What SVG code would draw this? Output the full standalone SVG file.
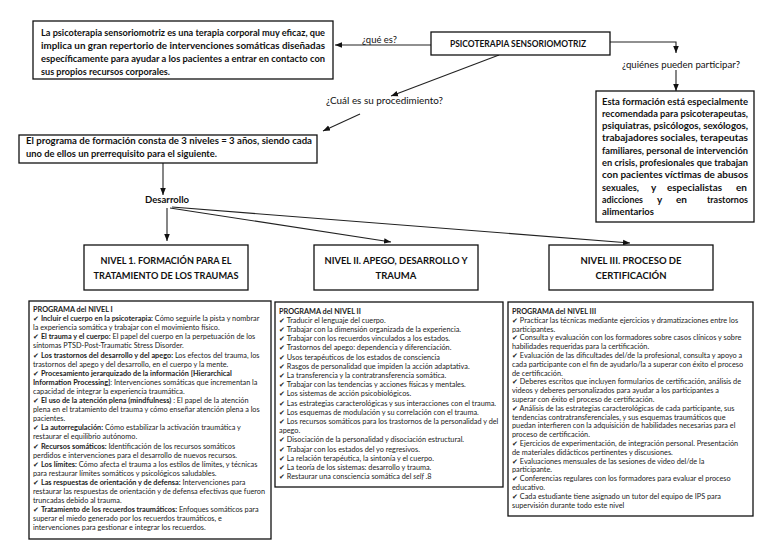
<svg xmlns="http://www.w3.org/2000/svg" width="768" height="543" viewBox="0 0 768 543">
<style>
.box{fill:#fff;stroke:#111;stroke-width:1.3}
.t{font-family:Lato,"Open Sans","Liberation Sans",sans-serif;fill:#111}
.b{font-weight:bold}
.m{font-size:10px;font-weight:bold}
.n{font-size:9.5px;font-weight:bold;text-anchor:middle}
.s{font-size:7.3px;fill:#222}
.c{stroke:#222;stroke-width:1.1;fill:none;marker-end:url(#ah)}
</style>
<defs>
<marker id="ah" markerWidth="8" markerHeight="8" refX="7" refY="4" orient="auto" markerUnits="userSpaceOnUse"><path d="M0,1.2 L7,4 L0,6.8 z" fill="#111"/></marker>
</defs>

<g id="connectors">
<path class="c" d="M431,45 L335,45"/>
<path class="c" d="M610,42 H676 V53"/>
<path class="c" d="M676,70 V91"/>
<path class="c" d="M499,55 L391,96"/>
<path class="c" d="M360,114 L323,131"/>
<path class="c" d="M163,163 V195"/>
<path class="c" d="M167,208 V241"/>
<path class="c" d="M170,208 L391,242"/>
<path class="c" d="M172,207 L630,243"/>
</g>

<g id="definicion">
<rect class="box" x="33" y="21" width="300" height="58"/>
<text class="t m" x="41" y="35.5" textLength="284" lengthAdjust="spacingAndGlyphs">La psicoterapia sensoriomotriz es una terapia corporal muy eficaz, que</text>
<text class="t m" x="41" y="49" textLength="284" lengthAdjust="spacingAndGlyphs">implica un gran repertorio de intervenciones somáticas diseñadas</text>
<text class="t m" x="41" y="62" textLength="284" lengthAdjust="spacingAndGlyphs">específicamente para ayudar a los pacientes a entrar en contacto con</text>
<text class="t m" x="41" y="75" textLength="129" lengthAdjust="spacingAndGlyphs">sus propios recursos corporales.</text>
</g>

<g id="central">
<rect class="box" x="431" y="32" width="179" height="23"/>
<text class="t b" x="518" y="47" font-size="8.5" text-anchor="middle" textLength="136" lengthAdjust="spacingAndGlyphs">PSICOTERAPIA SENSORIOMOTRIZ</text>
</g>

<g id="lbl-que">
<text class="t" x="362" y="42.5" font-size="9" textLength="35" lengthAdjust="spacingAndGlyphs">¿qué es?</text>
</g>
<g id="lbl-quienes">
<text class="t" x="622" y="67.5" font-size="9.5" textLength="118" lengthAdjust="spacingAndGlyphs">¿quiénes pueden participar?</text>
</g>
<g id="lbl-cual">
<text class="t" x="326" y="104" font-size="9" textLength="117" lengthAdjust="spacingAndGlyphs">¿Cuál es su procedimiento?</text>
</g>

<g id="participantes">
<rect class="box" x="596" y="91" width="158" height="131"/>
<text class="t m" x="602" y="104.5" textLength="146" lengthAdjust="spacingAndGlyphs">Esta formación está especialmente</text>
<text class="t m" x="602" y="116.8" textLength="146" lengthAdjust="spacingAndGlyphs">recomendada para psicoterapeutas,</text>
<text class="t m" x="602" y="129.1" textLength="146" lengthAdjust="spacingAndGlyphs">psiquiatras, psicólogos, sexólogos,</text>
<text class="t m" x="602" y="141.4" textLength="146" lengthAdjust="spacingAndGlyphs">trabajadores sociales, terapeutas</text>
<text class="t m" x="602" y="153.7" textLength="146" lengthAdjust="spacingAndGlyphs">familiares, personal de intervención</text>
<text class="t m" x="602" y="166" textLength="146" lengthAdjust="spacingAndGlyphs">en crisis, profesionales que trabajan</text>
<text class="t m" x="602" y="178.3" textLength="146" lengthAdjust="spacingAndGlyphs">con pacientes víctimas de abusos</text>
<text class="t m" y="190.6"><tspan x="602" textLength="37" lengthAdjust="spacingAndGlyphs">sexuales,</tspan> <tspan x="651">y</tspan> <tspan x="667" textLength="55" lengthAdjust="spacingAndGlyphs">especialistas</tspan> <tspan x="736">en</tspan></text>
<text class="t m" y="202.9"><tspan x="602" textLength="41" lengthAdjust="spacingAndGlyphs">adicciones</tspan> <tspan x="657">y</tspan> <tspan x="676">en</tspan> <tspan x="707" textLength="41" lengthAdjust="spacingAndGlyphs">trastornos</tspan></text>
<text class="t m" x="602" y="215.2" textLength="52" lengthAdjust="spacingAndGlyphs">alimentarios</text>
</g>

<g id="programa">
<rect class="box" x="19" y="135" width="298" height="28"/>
<text class="t m" x="26" y="144" textLength="286" lengthAdjust="spacingAndGlyphs">El programa de formación consta de 3 niveles = 3 años, siendo cada</text>
<text class="t m" x="26" y="157" textLength="191" lengthAdjust="spacingAndGlyphs">uno de ellos un prerrequisito para el siguiente.</text>
</g>

<g id="desarrollo">
<text class="t b" x="145" y="203" font-size="9" textLength="44" lengthAdjust="spacingAndGlyphs">Desarrollo</text>
</g>

<g id="nivel1">
<rect class="box" x="84" y="245" width="164" height="45"/>
<text class="t n" x="166" y="264" textLength="131" lengthAdjust="spacingAndGlyphs">NIVEL 1. FORMACIÓN PARA EL</text>
<text class="t n" x="166" y="278.5" textLength="145" lengthAdjust="spacingAndGlyphs">TRATAMIENTO DE LOS TRAUMAS</text>
</g>
<g id="nivel2">
<rect class="box" x="314" y="245" width="164" height="45"/>
<text class="t n" x="396" y="264" textLength="143" lengthAdjust="spacingAndGlyphs">NIVEL II. APEGO, DESARROLLO Y</text>
<text class="t n" x="396" y="278.5">TRAUMA</text>
</g>
<g id="nivel3">
<rect class="box" x="549" y="245" width="164" height="45"/>
<text class="t n" x="631" y="264" textLength="101" lengthAdjust="spacingAndGlyphs">NIVEL III. PROCESO DE</text>
<text class="t n" x="631" y="278.5" textLength="71" lengthAdjust="spacingAndGlyphs">CERTIFICACIÓN</text>
</g>

<g id="programa-nivel1">
<rect class="box" x="29" y="301" width="242" height="238"/>
<text class="t s" x="33">
<tspan x="33" y="312" class="b">PROGRAMA del NIVEL I</tspan>
<tspan x="33" y="321.1">✔ <tspan class="b">Incluir el cuerpo en la psicoterapia:</tspan> Cómo seguirle la pista y nombrar</tspan>
<tspan x="33" y="330.2">la experiencia somática y trabajar con el movimiento físico.</tspan>
<tspan x="33" y="339.3">✔ <tspan class="b">El trauma y el cuerpo:</tspan> El papel del cuerpo en la perpetuación de los</tspan>
<tspan x="33" y="348.4">síntomas PTSD-Post-Traumatic Stress Disorder.</tspan>
<tspan x="33" y="357.5">✔ <tspan class="b">Los trastornos del desarrollo y del apego:</tspan> Los efectos del trauma, los</tspan>
<tspan x="33" y="366.6">trastornos del apego y del desarrollo, en el cuerpo y la mente.</tspan>
<tspan x="33" y="375.7">✔ <tspan class="b">Procesamiento jerarquizado de la información [Hierarchical</tspan></tspan>
<tspan x="33" y="384.8"><tspan class="b">Information Processing]</tspan>: Intervenciones somáticas que incrementan la</tspan>
<tspan x="33" y="393.9">capacidad de integrar la experiencia traumática.</tspan>
<tspan x="33" y="403">✔ <tspan class="b">El uso de la atención plena (mindfulness)</tspan> : El papel de la atención</tspan>
<tspan x="33" y="412.1">plena en el tratamiento del trauma y cómo enseñar atención plena a los</tspan>
<tspan x="33" y="421.2">pacientes.</tspan>
<tspan x="33" y="430.3">✔ <tspan class="b">La autorregulación:</tspan> Cómo estabilizar la activación traumática y</tspan>
<tspan x="33" y="439.4">restaurar el equilibrio autónomo.</tspan>
<tspan x="33" y="448.5">✔ <tspan class="b">Recursos somáticos:</tspan> Identificación de los recursos somáticos</tspan>
<tspan x="33" y="457.6">perdidos e intervenciones para el desarrollo de nuevos recursos.</tspan>
<tspan x="33" y="466.7">✔ <tspan class="b">Los límites:</tspan> Cómo afecta el trauma a los estilos de límites, y técnicas</tspan>
<tspan x="33" y="475.8">para restaurar límites somáticos y psicológicos saludables.</tspan>
<tspan x="33" y="484.9">✔ <tspan class="b">Las respuestas de orientación y de defensa:</tspan> Intervenciones para</tspan>
<tspan x="33" y="494">restaurar las respuestas de orientación y de defensa efectivas que fueron</tspan>
<tspan x="33" y="503.1">truncadas debido al trauma.</tspan>
<tspan x="33" y="512.2">✔ <tspan class="b">Tratamiento de los recuerdos traumáticos:</tspan> Enfoques somáticos para</tspan>
<tspan x="33" y="521.3">superar el miedo generado por los recuerdos traumáticos, e</tspan>
<tspan x="33" y="530.4">intervenciones para gestionar e integrar los recuerdos.</tspan>
</text>
</g>

<g id="programa-nivel2">
<rect class="box" x="275" y="302" width="228" height="185"/>
<text class="t s" x="279">
<tspan x="279" y="313.5" class="b">PROGRAMA del NIVEL II</tspan>
<tspan x="279" y="322.7">✔ Traducir el lenguaje del cuerpo.</tspan>
<tspan x="279" y="331.9">✔ Trabajar con la dimensión organizada de la experiencia.</tspan>
<tspan x="279" y="341.1">✔ Trabajar con los recuerdos vinculados a los estados.</tspan>
<tspan x="279" y="350.3">✔ Trastornos del apego: dependencia y diferenciación.</tspan>
<tspan x="279" y="359.5">✔ Usos terapéuticos de los estados de consciencia</tspan>
<tspan x="279" y="368.7">✔ Rasgos de personalidad que impiden la acción adaptativa.</tspan>
<tspan x="279" y="377.9">✔ La transferencia y la contratransferencia somática.</tspan>
<tspan x="279" y="387.1">✔ Trabajar con las tendencias y acciones físicas y mentales.</tspan>
<tspan x="279" y="396.3">✔ Los sistemas de acción psicobiológicos.</tspan>
<tspan x="279" y="405.5">✔ Las estrategias caracterológicas y sus interacciones con el trauma.</tspan>
<tspan x="279" y="414.7">✔ Los esquemas de modulación y su correlación con el trauma.</tspan>
<tspan x="279" y="423.9">✔ Los recursos somáticos para los trastornos de la personalidad y del</tspan>
<tspan x="279" y="433.1">apego.</tspan>
<tspan x="279" y="442.3">✔ Disociación de la personalidad y disociación estructural.</tspan>
<tspan x="279" y="451.5">✔ Trabajar con los estados del yo regresivos.</tspan>
<tspan x="279" y="460.7">✔ La relación terapéutica, la sintonía y el cuerpo.</tspan>
<tspan x="279" y="469.9">✔ La teoría de los sistemas: desarrollo y trauma.</tspan>
<tspan x="279" y="479.1">✔ Restaurar una consciencia somática del <tspan font-style="italic">self</tspan> .8</tspan>
</text>
</g>

<g id="programa-nivel3">
<rect class="box" x="508" y="302" width="245" height="214"/>
<text class="t s" x="512">
<tspan x="512" y="314" class="b">PROGRAMA del NIVEL III</tspan>
<tspan x="512" y="322.8">✔ Practicar las técnicas mediante ejercicios y dramatizaciones entre los</tspan>
<tspan x="512" y="331.6">participantes.</tspan>
<tspan x="512" y="340.4">✔ Consulta y evaluación con los formadores sobre casos clínicos y sobre</tspan>
<tspan x="512" y="349.2">habilidades requeridas para la certificación.</tspan>
<tspan x="512" y="358">✔ Evaluación de las dificultades del/de la profesional, consulta y apoyo a</tspan>
<tspan x="512" y="366.8">cada participante con el fin de ayudarlo/la a superar con éxito el proceso</tspan>
<tspan x="512" y="375.6">de certificación.</tspan>
<tspan x="512" y="384.4">✔ Deberes escritos que incluyen formularios de certificación, análisis de</tspan>
<tspan x="512" y="393.2">videos y deberes personalizados para ayudar a los participantes a</tspan>
<tspan x="512" y="402">superar con éxito el proceso de certificación.</tspan>
<tspan x="512" y="410.8">✔ Análisis de las estrategias caracterológicas de cada participante, sus</tspan>
<tspan x="512" y="419.6">tendencias contratransferenciales, y sus esquemas traumáticos que</tspan>
<tspan x="512" y="428.4">puedan interfieren con la adquisición de habilidades necesarias para el</tspan>
<tspan x="512" y="437.2">proceso de certificación.</tspan>
<tspan x="512" y="446">✔ Ejercicios de experimentación, de integración personal. Presentación</tspan>
<tspan x="512" y="454.8">de materiales didácticos pertinentes y discusiones.</tspan>
<tspan x="512" y="463.6">✔ Evaluaciones mensuales de las sesiones de video del/de la</tspan>
<tspan x="512" y="472.4">participante.</tspan>
<tspan x="512" y="481.2">✔ Conferencias regulares con los formadores para evaluar el proceso</tspan>
<tspan x="512" y="490">educativo.</tspan>
<tspan x="512" y="498.8">✔ Cada estudiante tiene asignado un tutor del equipo de IPS para</tspan>
<tspan x="512" y="507.6">supervisión durante todo este nivel</tspan>
</text>
</g>
</svg>
